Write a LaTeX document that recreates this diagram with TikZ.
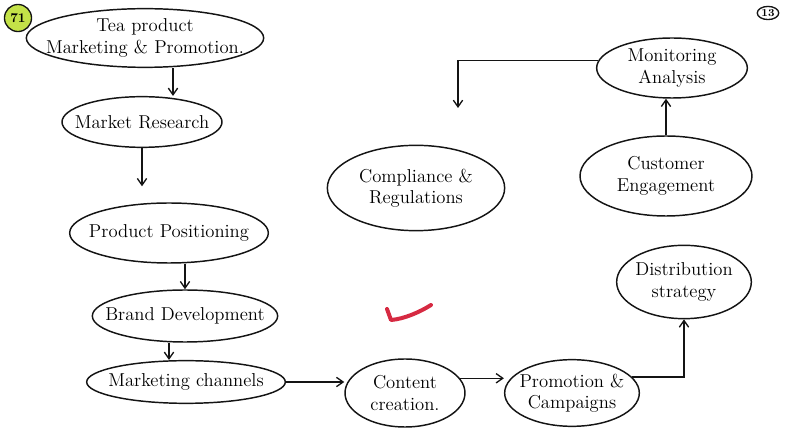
\documentclass[tikz,border=0pt]{standalone}
\usetikzlibrary{shapes.geometric,arrows.meta}

\definecolor{inkline}{RGB}{20,20,20}
\definecolor{markgreen}{RGB}{196,226,72}
\definecolor{tickred}{RGB}{214,42,66}

\tikzset{every picture/.style={line width=0.75pt}}
\tikzset{
  stage/.style={ellipse, draw=inkline, line width=1.1pt, inner xsep=-25pt, inner ysep=-6pt,
    align=center, font=\fontsize{14}{16}\selectfont},
  flow/.style={draw=inkline, line width=1pt, -{Straight Barb[length=5pt,width=7pt]}}
}

\begin{document}
\begin{tikzpicture}[x=0.75pt,y=0.75pt,yscale=-1,xscale=1]
\useasboundingbox (0,0) rectangle (794,438);

%Shape: Ellipse
\node[stage, minimum width=178pt, minimum height=44pt] (tea) at (145,38) {Tea product\\Marketing \& Promotion.};
%Shape: Ellipse
\node[stage, minimum width=120pt, minimum height=38pt] (mkt) at (142,122) {Market Research};
%Shape: Ellipse
\node[stage, minimum width=149pt, minimum height=45pt] (pos) at (169,233) {Product Positioning};
%Shape: Ellipse
\node[stage, minimum width=139pt, minimum height=39pt] (brand) at (185,316) {Brand Development};
%Shape: Ellipse
\node[stage, minimum width=149pt, minimum height=32pt] (chan) at (186,382) {Marketing channels};
%Shape: Ellipse
\node[stage, minimum width=90pt, minimum height=51pt] (cont) at (405,393) {Content\\creation.};
%Shape: Ellipse
\node[stage, minimum width=101pt, minimum height=50pt] (prom) at (572,393) {Promotion \&\\Campaigns};
%Shape: Ellipse
\node[stage, minimum width=101pt, minimum height=55pt] (dist) at (684,282) {Distribution\\strategy};
%Shape: Ellipse
\node[stage, minimum width=129pt, minimum height=60pt] (cust) at (666,176) {Customer\\Engagement};
%Shape: Ellipse
\node[stage, minimum width=113pt, minimum height=45pt] (mon) at (672,68) {Monitoring\\Analysis};
%Shape: Ellipse
\node[stage, minimum width=133pt, minimum height=64pt] (comp) at (416,188) {Compliance \&\\Regulations};

% free end above compliance
\coordinate (compin) at (458,108);

%Straight Lines
\draw[flow] ([xshift=21pt]tea.south) -- ([xshift=21pt]tea.south |- mkt.north);
\draw[flow, shorten >=12pt] (mkt.south) -- (mkt.south |- pos.north);
\draw[flow] (pos.south -| brand.north) -- (brand.north);
\draw[flow] ([xshift=-12pt]brand.south) -- ([xshift=-12pt]brand.south |- chan.north);
\draw[flow] (chan.east) -- (chan.east -| cont.west);
\draw[flow] (cont.15) -- (cont.15 -| prom.west);
\draw[flow] (prom.15) -| (dist.south);
\draw[flow] (cust.north) -- (cust.north |- mon.south);
\draw[flow] (mon.174) -| (compin);

% Page marks
\node[circle, draw=inkline, fill=markgreen, line width=1pt, inner sep=2.5pt,
  font=\fontsize{10}{12}\selectfont\bfseries] (pgleft) at (18,18) {71};
\node[ellipse, draw=inkline, line width=1pt, inner sep=0.8pt,
  font=\fontsize{8}{10}\selectfont\bfseries] (pgright) at (768,13) {13};

%Curve Lines
\draw[tickred, line width=3pt, line cap=round, line join=round]
  (387,309) -- (391,320) .. controls (404,319) and (420,312) .. (431,305);

\end{tikzpicture}
\end{document}
